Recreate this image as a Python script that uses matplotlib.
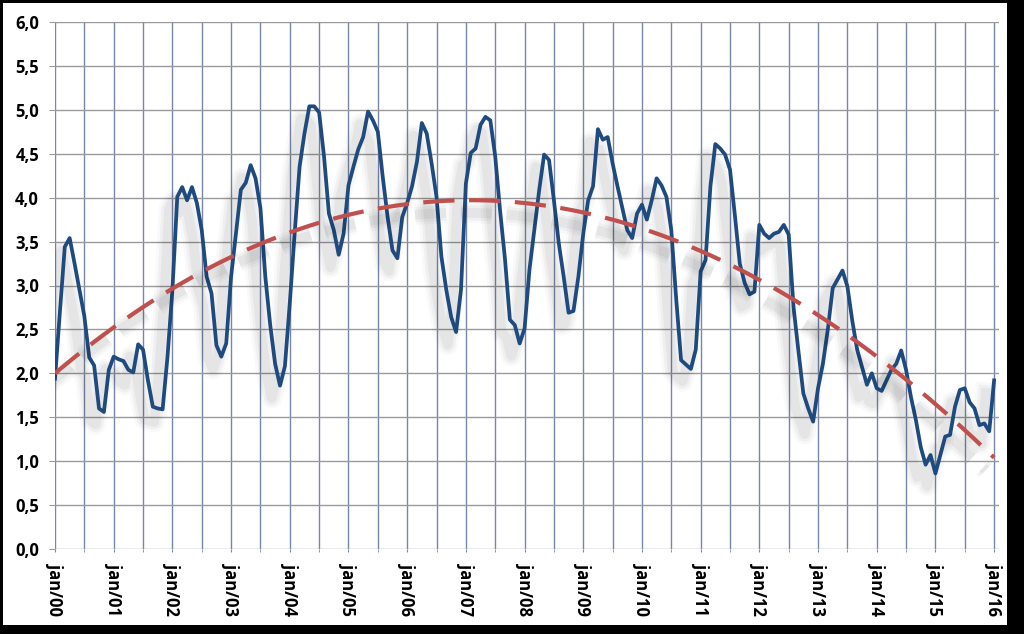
import numpy as np
import matplotlib
matplotlib.use("Agg")
import matplotlib.pyplot as plt
import matplotlib.patheffects as pe
from matplotlib.patches import Rectangle
from matplotlib.ticker import FixedLocator

# monthly values, jan/00 .. jan/16
values = [
    1.94, 2.70, 3.44, 3.54, 3.25, 2.95, 2.65, 2.18, 2.09, 1.60, 1.56, 2.04,
    2.19, 2.16, 2.14, 2.04, 2.01, 2.33, 2.27, 1.92, 1.62, 1.60, 1.59, 2.19,
    2.95, 4.01, 4.12, 3.97, 4.12, 3.94, 3.63, 3.10, 2.91, 2.32, 2.19, 2.34,
    3.10, 3.60, 4.09, 4.17, 4.37, 4.22, 3.88, 3.10, 2.55, 2.11, 1.86, 2.08,
    2.80, 3.60, 4.35, 4.73, 5.04, 5.04, 4.97, 4.47, 3.82, 3.63, 3.35, 3.59,
    4.14, 4.35, 4.55, 4.69, 4.98, 4.88, 4.75, 4.24, 3.78, 3.40, 3.31, 3.78,
    3.94, 4.13, 4.41, 4.85, 4.73, 4.39, 4.01, 3.33, 2.95, 2.64, 2.47, 2.95,
    4.16, 4.51, 4.56, 4.83, 4.92, 4.88, 4.47, 3.85, 3.30, 2.61, 2.55, 2.34,
    2.51, 3.18, 3.63, 4.09, 4.49, 4.43, 3.97, 3.48, 3.10, 2.69, 2.71, 3.10,
    3.59, 3.97, 4.13, 4.78, 4.66, 4.69, 4.39, 4.13, 3.88, 3.63, 3.54, 3.82,
    3.92, 3.75, 3.97, 4.22, 4.14, 4.01, 3.63, 2.85, 2.15, 2.10, 2.05, 2.27,
    3.16, 3.29, 4.13, 4.61, 4.56, 4.49, 4.32, 3.80, 3.25, 3.03, 2.90, 2.93,
    3.69, 3.59, 3.54, 3.59, 3.61, 3.69, 3.58, 2.75, 2.25, 1.77, 1.60, 1.45,
    1.83, 2.11, 2.50, 2.97, 3.07, 3.17, 2.99, 2.60, 2.27, 2.07, 1.87, 2.00,
    1.83, 1.80, 1.92, 2.04, 2.11, 2.26, 2.04, 1.73, 1.47, 1.16, 0.96, 1.07,
    0.86, 1.07, 1.28, 1.30, 1.62, 1.81, 1.83, 1.67, 1.60, 1.41, 1.43, 1.34,
    1.92,
]
tick_labels = ["jan/00", "jan/01", "jan/02", "jan/03", "jan/04", "jan/05",
               "jan/06", "jan/07", "jan/08", "jan/09", "jan/10", "jan/11",
               "jan/12", "jan/13", "jan/14", "jan/15", "jan/16"]
y_labels = ["0,0", "0,5", "1,0", "1,5", "2,0", "2,5", "3,0",
            "3,5", "4,0", "4,5", "5,0", "5,5", "6,0"]

plt.rcParams['font.family'] = ['Open Sans', 'DejaVu Sans']

x = np.arange(len(values))
y = np.array(values)
# polynomial trend line (as in the spreadsheet)
coef = np.polyfit(x, y, 3)
trend = np.polyval(coef, x)

fig = plt.figure(figsize=(10.24, 6.34), dpi=100, facecolor="black")
fig.add_artist(Rectangle((3 / 1024, 9 / 634), 1004 / 1024, 622 / 634,
                         transform=fig.transFigure, facecolor="white",
                         edgecolor="none", zorder=-5))
ax = fig.add_axes([55 / 1024, (634 - 549) / 634, 944 / 1024, 527 / 634])
ax.set_facecolor("white")
ax.set_zorder(1)

def shadow():
    # soft grey shadow down-left of the line
    return [pe.SimpleLineShadow(offset=(-6, -9), shadow_color="black", alpha=a, linewidth=w)
            for w, a in ((15, 0.025), (11, 0.035), (7, 0.045))] + [pe.Normal()]

ax.plot(x, y, color="#1f4a80", lw=2.7, zorder=4, solid_joinstyle="round",
        path_effects=shadow())
ax.plot(x, trend, color="#c0504d", lw=3.0, dashes=(7.5, 3.5), zorder=5,
        path_effects=shadow())

ax.set_xlim(0, 193)
ax.set_ylim(0, 6)
ax.xaxis.set_major_locator(FixedLocator(np.arange(0, 193, 12)))
ax.xaxis.set_minor_locator(FixedLocator(np.arange(6, 193, 12)))
ax.set_xticklabels(tick_labels, rotation=-90, fontsize=12, fontweight="bold")
ax.set_yticks(np.arange(0, 6.01, 0.5))
ax.set_yticklabels(y_labels, fontsize=12, fontweight="bold")

ax.grid(True, axis="x", which="both", color="#7886a6", lw=1.0, zorder=1)
ax.grid(True, axis="y", which="major", color="#9a9a9a", lw=1.0, zorder=1)
ax.set_axisbelow(True)
for s in ax.spines.values():
    s.set_visible(False)
ax.tick_params(axis="y", length=4.5, color="#9a9a9a", pad=7)
ax.tick_params(axis="x", which="both", length=2, color="#7886a6", pad=8)

fig.savefig("out.png", dpi=100, facecolor="black")
